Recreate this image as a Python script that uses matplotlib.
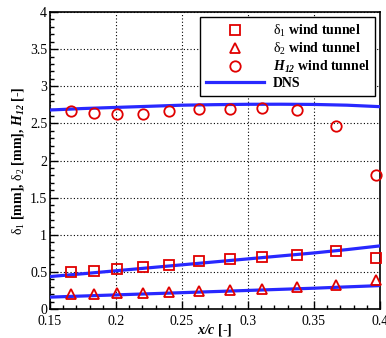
import matplotlib
matplotlib.use("Agg")
import matplotlib.pyplot as plt
from matplotlib.ticker import MultipleLocator
import numpy as np

plt.rcParams['font.family'] = ['Liberation Serif', 'DejaVu Serif']
plt.rcParams['mathtext.fontset'] = 'custom'
plt.rcParams['mathtext.rm'] = 'Liberation Serif'
plt.rcParams['mathtext.it'] = 'Liberation Serif:italic'
plt.rcParams['mathtext.bf'] = 'Liberation Serif:bold'
plt.rcParams['mathtext.bfit'] = 'Liberation Serif:italic:bold'

# Wind tunnel data
x_wt = [0.1657, 0.1833, 0.2005, 0.2202, 0.2402, 0.2629, 0.2861, 0.3106, 0.3373, 0.3664, 0.397]
delta1_wt = [0.504, 0.518, 0.536, 0.563, 0.599, 0.640, 0.676, 0.700, 0.730, 0.780, 0.690]
delta2_wt = [0.199, 0.205, 0.210, 0.220, 0.232, 0.247, 0.258, 0.270, 0.290, 0.320, 0.390]
H12_wt = [2.666, 2.645, 2.620, 2.626, 2.670, 2.700, 2.690, 2.710, 2.685, 2.470, 1.810]

# DNS
x_dns = [0.15, 0.175, 0.20, 0.225, 0.25, 0.275, 0.30, 0.325, 0.35, 0.375, 0.40]
delta1_dns = [0.437, 0.475, 0.515, 0.555, 0.595, 0.635, 0.675, 0.715, 0.755, 0.800, 0.850]
delta2_dns = [0.160, 0.175, 0.190, 0.205, 0.220, 0.235, 0.250, 0.265, 0.280, 0.298, 0.315]
H12_dns = [2.680, 2.700, 2.715, 2.730, 2.745, 2.752, 2.757, 2.758, 2.755, 2.745, 2.725]

fig = plt.figure(figsize=(3.86, 3.38), dpi=100)
ax = fig.add_axes([50/386, 1-309/338, 330/386, 297/338])

red = '#e00000'
blue = '#2828ff'
ax.plot(x_wt, delta1_wt, 's', mfc='none', mec=red, ms=7, mew=1.3,
        label=r'$\mathrm{\delta}_{\mathit{1}}$ wind tunnel', clip_on=False, zorder=4)
ax.plot(x_wt, delta2_wt, '^', mfc='none', mec=red, ms=7.5, mew=1.3,
        label=r'$\mathrm{\delta}_{\mathit{2}}$ wind tunnel', clip_on=False, zorder=4)
ax.plot(x_wt, H12_wt, 'o', mfc='none', mec=red, ms=7.5, mew=1.3,
        label=r'$\mathbfit{H}_{\mathbfit{12}}$ wind tunnel', clip_on=False, zorder=4)
ax.plot(x_dns, delta1_dns, '-', color=blue, lw=2.3, label='DNS', zorder=3)
ax.plot(x_dns, delta2_dns, '-', color=blue, lw=2.3, zorder=3)
ax.plot(x_dns, H12_dns, '-', color=blue, lw=2.3, zorder=3)

ax.set_xlim(0.15, 0.4)
ax.set_ylim(0, 4)
ax.xaxis.set_minor_locator(MultipleLocator(0.01))
ax.yaxis.set_minor_locator(MultipleLocator(0.1))
ax.set_xticks([0.15, 0.2, 0.25, 0.3, 0.35, 0.4])
ax.set_xticklabels(['0.15', '0.2', '0.25', '0.3', '0.35', '0.4'])
ax.set_yticks([0, 0.5, 1, 1.5, 2, 2.5, 3, 3.5, 4])
ax.set_yticklabels(['0', '0.5', '1', '1.5', '2', '2.5', '3', '3.5', '4'])
ax.tick_params(which='both', direction='in', top=False, right=False, labelsize=10, width=1)
ax.tick_params(axis='x', pad=4)
ax.tick_params(axis='y', pad=2)
ax.tick_params(which='major', length=6)
ax.tick_params(which='minor', length=3)
for s in ax.spines.values():
    s.set_linewidth(1.2)
ax.grid(True, which='major', linestyle=(0, (1, 2)), color='black', linewidth=0.8)

ax.set_xlabel(r'$\mathbfit{x/c}$ [-]', fontsize=10, fontweight='bold', labelpad=-4)
ax.set_ylabel(r'$\mathrm{\delta}_{\mathit{1}}$ [mm], $\mathrm{\delta}_{\mathit{2}}$ [mm], $\mathbfit{H}_{\mathbfit{12}}$ [-]',
              fontsize=10, fontweight='bold', labelpad=3)

leg = ax.legend(loc='upper right', bbox_to_anchor=(0.985, 0.983), prop={'weight': 'bold', 'size': 10},
                fancybox=False, edgecolor='black', framealpha=1, borderpad=0.4, borderaxespad=0,
                handlelength=4.2, labelspacing=0.15, handletextpad=0.6)
leg.get_frame().set_linewidth(1)

fig.savefig('out.png', dpi=100)
